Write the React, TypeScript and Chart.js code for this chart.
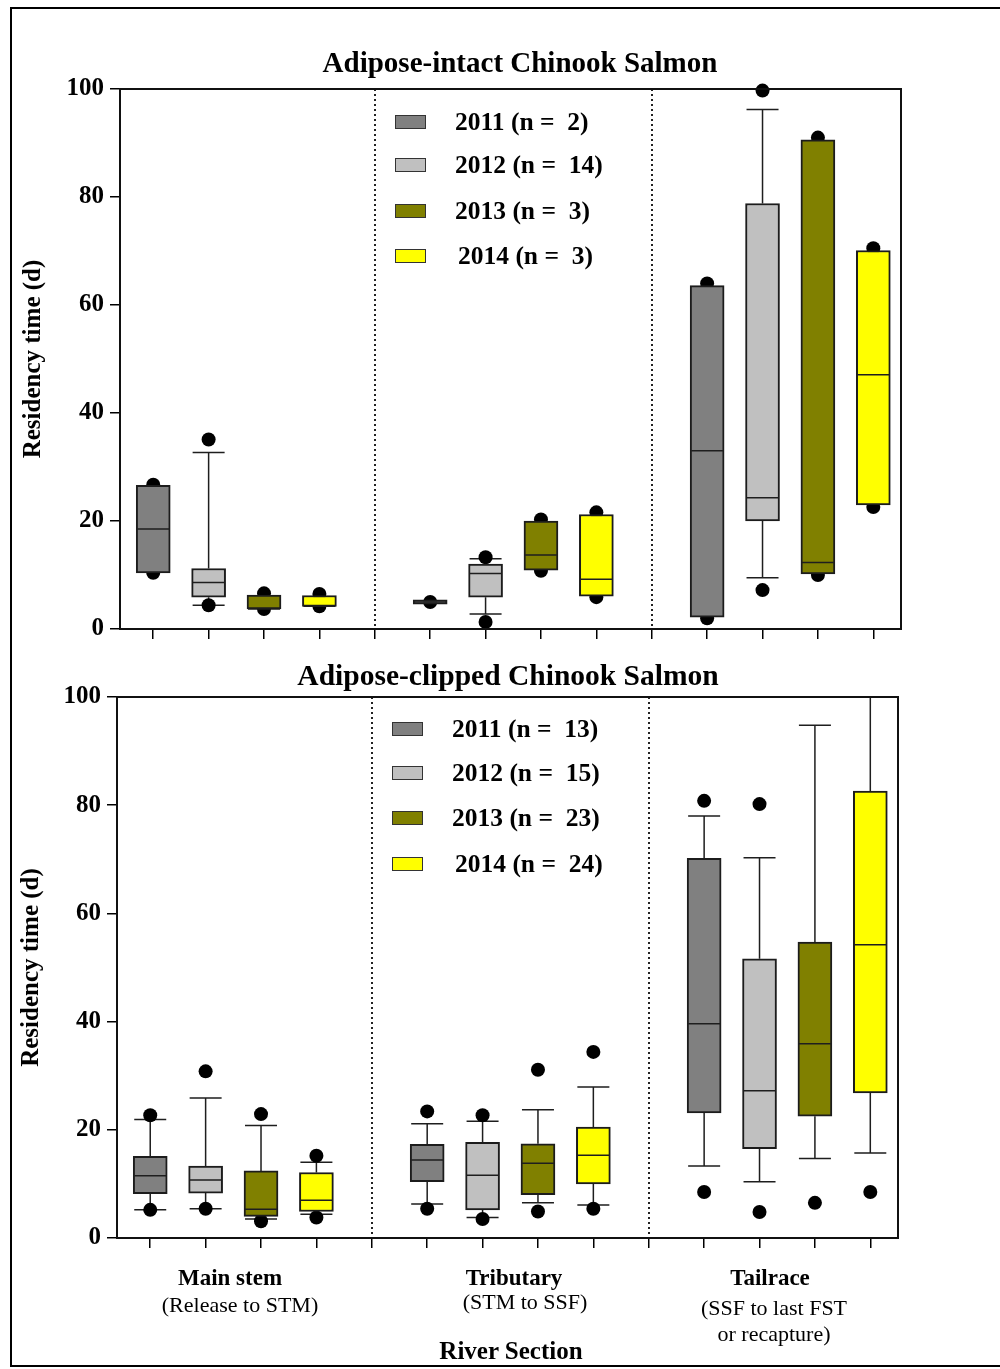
import React, { useEffect, useRef } from 'react';
import { Chart, registerables } from 'chart.js';

Chart.register(...registerables);

// ---------- data ----------
const years = ['2011', '2012', '2013', '2014'];
const yearColors = ['#808080', '#C0C0C0', '#808000', '#FFFF00'];
const sections = ['Main stem', 'Tributary', 'Tailrace'];
const sectionNotes = [['(Release to STM)'], ['(STM to SSF)'], ['(SSF to last FST', 'or recapture)']];
const xAxisTitle = 'River Section';
const yAxisTitle = 'Residency time (d)';
const yTickValues = [0, 20, 40, 60, 80, 100];
const slotTicks = [1, 2, 3, 4, 5, 6, 7, 8, 9, 10, 11, 12, 13, 14];
const dividerSlots = [5, 10];

const intactTitle = 'Adipose-intact Chinook Salmon';
const intactN = [2, 14, 3, 3];
// per section: [lower whisker, q1, median, q3, upper whisker]
const intact2011 = [[null, 10.4, 18.5, 26.6, null], [null, 4.6, 5.0, 5.4, null], [null, 2.2, 33.0, 63.6, null]];
const intact2012 = [[4.4, 5.9, 8.6, 11.2, 32.7], [2.8, 5.9, 10.3, 12.0, 13.0], [9.5, 20.0, 24.3, 78.8, 96.2]];
const intact2013 = [[null, 3.7, 3.7, 6.3, null], [null, 10.9, 13.7, 20.0, null], [null, 10.2, 12.3, 90.6, null]];
const intact2014 = [[null, 4.2, 4.2, 6.2, null], [null, 6.1, 9.2, 21.2, null], [null, 23.0, 47.1, 70.1, null]];
const intactDots2011 = [[26.7, 10.4], [5.0], [64.0, 2.0]];
const intactDots2012 = [[35.1, 4.4], [13.3, 1.3], [99.7, 7.2]];
const intactDots2013 = [[6.6, 3.7], [20.3, 10.8], [91.0, 10.0]];
const intactDots2014 = [[6.5, 4.2], [21.6, 5.9], [70.5, 22.6]];

const clippedTitle = 'Adipose-clipped Chinook Salmon';
const clippedN = [13, 15, 23, 24];
const clipped2011 = [[5.2, 8.2, 11.5, 15.1, 21.9], [6.3, 10.4, 14.4, 17.3, 21.1], [13.3, 23.1, 39.6, 70.2, 78.0]];
const clipped2012 = [[5.4, 8.3, 10.7, 13.3, 25.9], [3.8, 5.2, 11.6, 17.7, 21.6], [10.4, 16.5, 27.2, 51.6, 70.3]];
const clipped2013 = [[3.5, 4.0, 5.3, 12.4, 20.8], [6.5, 8.0, 13.8, 17.4, 23.7], [14.7, 22.5, 35.9, 54.7, 94.8]];
const clipped2014 = [[4.4, 4.9, 7.0, 12.1, 14.0], [6.1, 10.0, 15.3, 20.5, 27.9], [15.7, 26.8, 54.2, 82.6, 106]];
const clippedDots2011 = [[22.7, 5.2], [23.4, 5.4], [80.8, 8.5]];
const clippedDots2012 = [[30.8, 5.4], [22.7, 3.5], [80.2, 4.8]];
const clippedDots2013 = [[22.9, 3.1], [31.1, 4.9], [6.5]];
const clippedDots2014 = [[15.2, 3.8], [34.4, 5.4], [8.5]];

// ---------- helpers ----------
const FF = '"Liberation Serif", "Times New Roman", serif';
const slotOf = (section: number, yearIdx: number) => section * 5 + yearIdx + 1;

const boxExtras = {
  id: 'boxExtras',
  beforeDatasetsDraw(chart: any) {
    const { ctx, chartArea, scales } = chart;
    const x = scales.x;
    const y = scales.y;
    ctx.save();
    // dotted section dividers
    ctx.strokeStyle = '#222';
    ctx.lineWidth = 2;
    ctx.setLineDash([2, 3]);
    dividerSlots.forEach((d) => {
      const px = Math.round(x.getPixelForValue(d));
      ctx.beginPath();
      ctx.moveTo(px, chartArea.top);
      ctx.lineTo(px, chartArea.bottom);
      ctx.stroke();
    });
    ctx.setLineDash([]);
    // whiskers
    ctx.beginPath();
    ctx.rect(chartArea.left, chartArea.top, chartArea.right - chartArea.left, chartArea.bottom - chartArea.top);
    ctx.clip();
    ctx.strokeStyle = '#1e1e1e';
    ctx.lineWidth = 1.5;
    chart.data.datasets.forEach((ds: any) => {
      if (!ds.stats) return;
      ds.stats.forEach((s: any[], i: number) => {
        const px = x.getPixelForValue(ds.data[i].x);
        const pairs = [[s[0], s[1]], [s[4], s[3]]];
        pairs.forEach(([w, edge]) => {
          if (w === null || w === undefined) return;
          const pw = y.getPixelForValue(w);
          const pe = y.getPixelForValue(edge);
          ctx.beginPath();
          ctx.moveTo(px, pe);
          ctx.lineTo(px, pw);
          ctx.moveTo(px - 16, pw);
          ctx.lineTo(px + 16, pw);
          ctx.stroke();
        });
      });
    });
    ctx.restore();
  },
  afterDatasetsDraw(chart: any) {
    const { ctx, scales } = chart;
    const x = scales.x;
    const y = scales.y;
    ctx.save();
    ctx.strokeStyle = '#1e1e1e';
    ctx.lineWidth = 1.5;
    chart.data.datasets.forEach((ds: any) => {
      if (!ds.stats) return;
      ds.stats.forEach((s: any[], i: number) => {
        const px = x.getPixelForValue(ds.data[i].x);
        const pm = y.getPixelForValue(s[2]);
        ctx.beginPath();
        ctx.moveTo(px - 16, pm);
        ctx.lineTo(px + 16, pm);
        ctx.stroke();
      });
    });
    ctx.restore();
  },
  afterDraw(chart: any) {
    const { ctx, chartArea } = chart;
    ctx.save();
    ctx.strokeStyle = '#111';
    ctx.lineWidth = 2;
    ctx.strokeRect(chartArea.left, chartArea.top, chartArea.right - chartArea.left, chartArea.bottom - chartArea.top);
    ctx.restore();
  },
};

function buildConfig(boxes: any[][], dots: number[][][], L: any) {
  const datasets: any[] = years.map((yr, yi) => ({
    type: 'bar',
    label: yr,
    data: boxes[yi].map((b: any[], si: number) => ({ x: slotOf(si, yi), y: [b[1], b[3]] })),
    stats: boxes[yi],
    backgroundColor: yearColors[yi],
    borderColor: '#1c1c1c',
    borderWidth: 2,
    borderSkipped: false,
    barThickness: 34,
    grouped: false,
    order: 1,
  }));
  const pts: any[] = [];
  dots.forEach((yd, yi) => yd.forEach((vals, si) => vals.forEach((v) => pts.push({ x: slotOf(si, yi), y: v }))));
  datasets.push({
    type: 'scatter',
    label: 'points',
    data: pts,
    pointRadius: 7,
    pointHoverRadius: 7,
    pointBackgroundColor: '#000',
    pointBorderWidth: 0,
    showLine: false,
    clip: false,
    order: 2,
  });
  return {
    type: 'bar',
    data: { datasets },
    plugins: [boxExtras],
    options: {
      animation: false,
      responsive: false,
      maintainAspectRatio: false,
      events: [],
      layout: { padding: { left: 0, top: L.padTop, right: L.padRight, bottom: 0 } },
      plugins: { legend: { display: false }, tooltip: { enabled: false }, title: { display: false } },
      scales: {
        x: {
          type: 'linear',
          min: 0.4,
          max: 14.5,
          offset: false,
          afterBuildTicks: (s: any) => {
            s.ticks = slotTicks.map((v) => ({ value: v }));
          },
          afterFit: (s: any) => {
            s.height = L.xHeight;
          },
          ticks: { display: false },
          grid: { offset: false, drawOnChartArea: false, drawTicks: true, tickLength: 10, color: '#000', tickColor: '#000', lineWidth: 1.5 },
          border: { display: true, color: '#000', width: 2 },
        },
        y: {
          type: 'linear',
          min: 0,
          max: 100,
          afterBuildTicks: (s: any) => {
            s.ticks = yTickValues.map((v) => ({ value: v }));
          },
          afterFit: (s: any) => {
            s.width = L.yWidth;
          },
          ticks: { color: '#000', padding: 6, font: { family: FF, size: 25, weight: 'bold' } },
          grid: { drawOnChartArea: false, drawTicks: true, tickLength: 10, color: '#000', tickColor: '#000', lineWidth: 1.5 },
          border: { display: true, color: '#000', width: 2 },
          title: {
            display: true,
            text: yAxisTitle,
            color: '#000',
            padding: { top: L.yTitlePad, bottom: 0 },
            font: { family: FF, size: 25, weight: 'bold' },
          },
        },
      },
    },
  };
}

function BoxChart(props: any) {
  const ref = useRef<HTMLCanvasElement | null>(null);
  useEffect(() => {
    if (!ref.current) return;
    const chart = new Chart(ref.current, buildConfig(props.boxes, props.dots, props.layout) as any);
    return () => chart.destroy();
  }, []);
  return (
    <canvas
      ref={ref}
      width={1000}
      height={props.height}
      style={{ position: 'absolute', left: 0, top: props.top, width: 1000, height: props.height }}
    />
  );
}

function Legend(props: any) {
  return (
    <>
      {years.map((yr, i) => (
        <React.Fragment key={yr}>
          <div
            style={{
              position: 'absolute',
              left: props.swatchLeft,
              top: props.rows[i] - 7,
              width: 31,
              height: 14,
              boxSizing: 'border-box',
              background: yearColors[i],
              border: '1.5px solid #333',
            }}
          />
          <div
            style={{
              position: 'absolute',
              left: props.textLeft[i],
              top: props.rows[i],
              transform: 'translateY(-50%)',
              fontFamily: FF,
              fontWeight: 'bold',
              fontSize: 25.5,
              lineHeight: '26px',
              whiteSpace: 'pre',
              color: '#000',
            }}
          >
            {`${yr} (n =  ${props.n[i]})`}
          </div>
        </React.Fragment>
      ))}
    </>
  );
}

function Label(props: any) {
  return (
    <div
      style={{
        position: 'absolute',
        left: props.x,
        top: props.y,
        transform: 'translate(-50%, -50%)',
        fontFamily: FF,
        fontWeight: props.bold ? 'bold' : 'normal',
        fontSize: props.size,
        lineHeight: `${props.size}px`,
        whiteSpace: 'pre',
        color: '#000',
      }}
    >
      {props.text}
    </div>
  );
}

const groupLabelPos = [
  [230, 1277, 240, 1305],
  [514, 1277, 525, 1302],
  [770, 1277, 774, 1308],
];

export default function App() {
  return (
    <div style={{ position: 'absolute', left: 0, top: 0, width: 1000, height: 1369, overflow: 'hidden', background: '#fff' }}>
      <div
        style={{
          position: 'absolute',
          left: 10,
          top: 7,
          width: 1010,
          height: 1360,
          boxSizing: 'border-box',
          border: '2px solid #000',
        }}
      />
      <BoxChart
        top={0}
        height={650}
        boxes={[intact2011, intact2012, intact2013, intact2014]}
        dots={[intactDots2011, intactDots2012, intactDots2013, intactDots2014]}
        layout={{ padTop: 89, padRight: 99, xHeight: 19, yWidth: 120, yTitlePad: 19 }}
      />
      <BoxChart
        top={650}
        height={719}
        boxes={[clipped2011, clipped2012, clipped2013, clipped2014]}
        dots={[clippedDots2011, clippedDots2012, clippedDots2013, clippedDots2014]}
        layout={{ padTop: 47, padRight: 102, xHeight: 131, yWidth: 117, yTitlePad: 17 }}
      />
      <Label x={520} y={62} text={intactTitle} bold size={29} />
      <Label x={508} y={676} text={clippedTitle} bold size={29.5} />
      <Legend n={intactN} rows={[122, 165, 211, 256]} swatchLeft={395} textLeft={[455, 455, 455, 458]} />
      <Legend n={clippedN} rows={[729, 773, 818, 864]} swatchLeft={392} textLeft={[452, 452, 452, 455]} />
      {sections.map((s, i) => (
        <React.Fragment key={s}>
          <Label x={groupLabelPos[i][0]} y={groupLabelPos[i][1]} text={s} bold size={23} />
          {sectionNotes[i].map((t, j) => (
            <Label key={t} x={groupLabelPos[i][2]} y={groupLabelPos[i][3] + j * 26} text={t} size={22} />
          ))}
        </React.Fragment>
      ))}
      <Label x={511} y={1350} text={xAxisTitle} bold size={25} />
    </div>
  );
}
